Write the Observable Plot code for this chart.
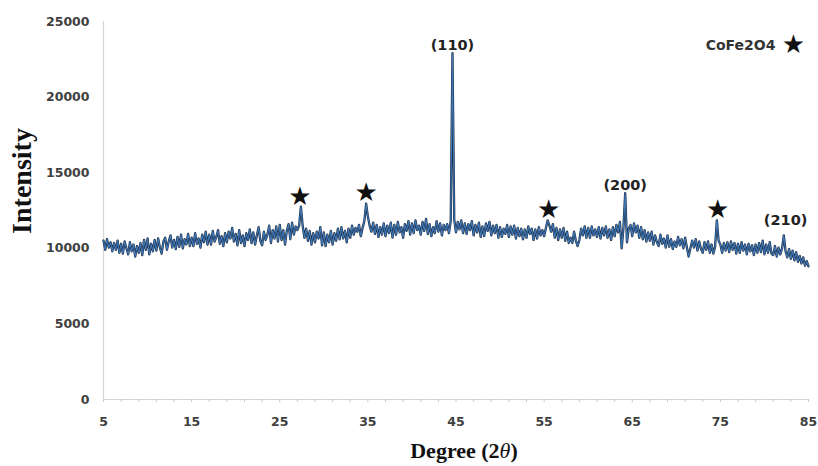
<!DOCTYPE html>
<html>
<head>
<meta charset="utf-8">
<script src="https://cdn.jsdelivr.net/npm/d3@7"></script>
<script src="https://cdn.jsdelivr.net/npm/@observablehq/plot@0.6"></script>
<style>
  html, body { margin: 0; padding: 0; background: #fff; }
</style>
</head>
<body>
<div id="chart"></div>
<script>
// Measurement grid: 2θ from 5° to 85° in 0.2° steps
const thetaStart = 5, thetaStep = 0.2;

// Intensity readings (one per grid point, 401 values; each row = one degree)
const intensity = [
  10500,9900,10600,10050,10400,   // 5
  9800,10350,9900,10500,9700,     // 6
  10300,9650,10450,10000,9600,    // 7
  10400,9800,10250,9450,10150,    // 8
  9700,10350,9550,10550,9900,     // 9
  10650,9600,10300,9800,10550,    // 10
  9850,10650,10050,9650,10450,    // 11
  10700,9900,10450,10850,10050,   // 12
  10550,9950,10750,10100,10900,   // 13
  10000,10600,10250,10950,10150,  // 14
  10700,10150,11000,10300,10650,  // 15
  10050,10900,10400,11100,10250,  // 16
  10900,10250,11150,10450,10750,  // 17
  11200,10300,10800,10150,11000,  // 18
  10400,11100,10650,11350,10450,  // 19
  10950,10200,11200,10350,10850,  // 20
  10150,11000,10550,11250,10350,  // 21
  11050,10250,10850,11400,10500,  // 22
  10200,11100,10550,10900,11500,  // 23
  10350,11200,10650,11450,10450,  // 24
  11550,10550,11200,10250,11150,  // 25
  11600,10600,11700,10900,11450,  // 26
  11200,11500,12750,11500,10700,  // 27
  11300,10500,11150,10250,11000,  // 28
  10400,11100,10650,11400,10200,  // 29
  11050,10150,10900,10400,11150,  // 30
  10250,11000,10500,11300,10600,  // 31
  11400,10650,11150,10400,11300,  // 32
  10700,11500,10900,11350,11100,  // 33
  11550,10800,11350,11800,12950,  // 34
  12100,11500,11100,11700,10950,  // 35
  11550,10750,11400,10900,11650,  // 36
  10800,11500,11000,11700,10700,  // 37
  11550,10900,11750,11050,11400,  // 38
  10700,11600,11150,11800,10900,  // 39
  11650,11000,11850,11200,11500,  // 40
  10900,11750,11150,11950,10950,  // 41
  11600,10800,11400,11000,11800,  // 42
  11100,11650,10850,11550,11200,  // 43
  11600,11000,11800,22900,11900,  // 44
  11050,11750,11250,11850,11000,  // 45
  11650,10950,11600,11200,11800,  // 46
  10850,11550,11050,11700,10750,  // 47
  11450,10800,11650,11150,11750,  // 48
  10850,11500,11000,11550,10700,  // 49
  11400,10750,11300,10950,11550,  // 50
  10750,11450,10900,11500,10650,  // 51
  11350,10800,11300,10600,11250,  // 52
  10700,11450,10950,11300,10550,  // 53
  11250,10650,11400,10850,11200,  // 54
  10800,11350,11850,11500,11100,  // 55
  11600,10700,11350,10550,11250,  // 56
  10700,11350,10500,11100,10350,  // 57
  10700,10350,11100,10500,10150,  // 58
  10550,11300,10850,11450,10700,  // 59
  11350,10700,11450,10850,11250,  // 60
  10750,11400,10650,11350,10850,  // 61
  11450,10700,11250,10550,11400,  // 62
  10800,11550,11050,11750,10000,  // 63
  11350,13650,10400,11300,11550,  // 64
  10800,11650,11050,11500,10700,  // 65
  11400,10600,11200,10450,11050,  // 66
  10500,11100,10250,10850,10400,  // 67
  10150,10900,10300,10650,10050,  // 68
  10850,10100,10600,9950,10450,   // 69
  10100,10750,10200,10600,10000,  // 70
  10700,10050,9450,10000,10500,   // 71
  10050,10600,9850,10450,9950,    // 72
  9700,10400,9900,10450,9700,     // 73
  10250,9650,10100,11850,10500,   // 74
  10250,9700,10350,9850,10400,    // 75
  9750,10450,9900,10350,9650,     // 76
  10300,9700,10400,9850,10250,    // 77
  9600,10300,9800,10200,9550,     // 78
  10250,9700,10350,9750,10500,    // 79
  9600,10250,9700,10400,9650,     // 80
  9550,10150,9450,10050,9600,     // 81
  10000,10850,9800,9400,9950,     // 82
  9300,9850,9200,9750,9100,       // 83
  9500,9000,9400,8850,9150,       // 84
  8800                            // 85
];

const xMajorTicks = [5, 15, 25, 35, 45, 55, 65, 75, 85];
const xMinorTicks = d3.range(5, 85.001, 2);
const yTicks = [0, 5000, 10000, 15000, 20000, 25000];

const peakLabels = [
  {theta: 44.6, value: 23400, label: "(110)"},
  {theta: 64.2, value: 14150, label: "(200)"},
  {theta: 82.4, value: 11850, label: "(210)"}
];
const starMarks = [
  {theta: 27.3, value: 13430},
  {theta: 34.8, value: 13690},
  {theta: 55.5, value: 12570},
  {theta: 74.7, value: 12570}
];
const legendText = {theta: 81.25, value: 23400, label: "CoFe2O4"};
const legendStar = {theta: 83.3, value: 23500};

const data = intensity.map((v, i) => ({theta: +(thetaStart + thetaStep * i).toFixed(1), value: v}));

const chart = Plot.plot({
  width: 818,
  height: 466,
  marginLeft: 103,
  marginRight: 10,
  marginTop: 21,
  marginBottom: 67,
  style: {background: "#fff", fontFamily: "'DejaVu Sans', sans-serif", fontWeight: "bold", fontSize: "12.5px", color: "#404040"},
  x: {domain: [5, 85], ticks: xMajorTicks, tickSize: 0, tickPadding: 18, label: null, line: false},
  y: {domain: [0, 25000], ticks: yTicks, tickSize: 0, tickPadding: 14, label: null, tickFormat: d => String(d)},
  marks: [
    Plot.ruleX([5], {stroke: "#d6d6d6", strokeWidth: 1.2}),
    Plot.ruleY([0], {stroke: "#d6d6d6", strokeWidth: 1.2}),
    Plot.ruleX(xMinorTicks, {x: d => d, y1: 0, y2: 0, insetBottom: -3, stroke: "#c8c8c8"}),
    Plot.line(data, {x: "theta", y: "value", stroke: "#1d2f48", strokeWidth: 2.3, strokeLinejoin: "round"}),
    Plot.line(data, {x: "theta", y: "value", stroke: "#4077b5", strokeWidth: 1.1, strokeLinejoin: "round"}),
    Plot.text(peakLabels, {x: "theta", y: "value", text: "label", fontSize: 14.5, fontWeight: "bold", fill: "#222"}),
    Plot.text(starMarks, {x: "theta", y: "value", text: () => "★", fontSize: 26, fill: "#111", fontWeight: "normal"}),
    Plot.text([legendText], {x: "theta", y: "value", text: "label", textAnchor: "end", fontSize: 14, fontWeight: "bold", fill: "#333"}),
    Plot.text([legendStar], {x: "theta", y: "value", text: () => "★", fontSize: 26, fill: "#111", fontWeight: "normal"})
  ]
});

document.getElementById("chart").appendChild(chart);

const svg = d3.select(chart);
svg.append("text")
  .attr("transform", "translate(31,181) rotate(-90)")
  .attr("text-anchor", "middle")
  .style("font-family", "'Liberation Serif', 'Times New Roman', serif")
  .style("font-weight", "bold")
  .style("font-size", "28px")
  .attr("fill", "#111")
  .text("Intensity");

const xt = svg.append("text")
  .attr("x", 464)
  .attr("y", 458)
  .attr("text-anchor", "middle")
  .style("font-family", "'Liberation Serif', 'Times New Roman', serif")
  .style("font-weight", "bold")
  .style("font-size", "22px")
  .attr("fill", "#111");
xt.append("tspan").text("Degree (2");
xt.append("tspan").style("font-style", "italic").style("font-weight", "normal").text("θ");
xt.append("tspan").text(")");
</script>
</body>
</html>
